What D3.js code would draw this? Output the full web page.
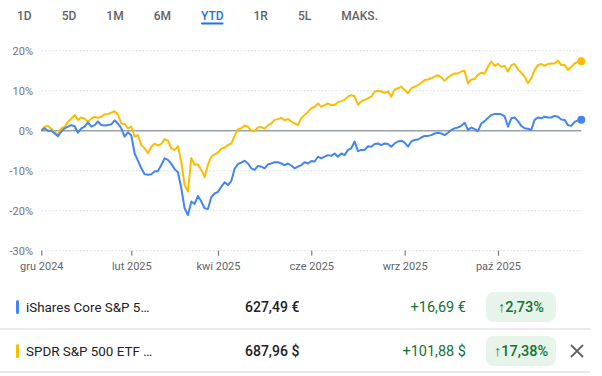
<!DOCTYPE html>
<html>
<head>
<meta charset="utf-8">
<script src="https://d3js.org/d3.v7.min.js"></script>
<style>
  body { margin: 0; background: #fff; }
  svg { display: block; font-family: Roboto, "Noto Sans", sans-serif; }
</style>
</head>
<body>
<svg id="chart"></svg>
<script>
// range tabs
const tabs = ["1D", "5D", "1M", "6M", "YTD", "1R", "5L", "MAKS."];
const activeTab = "YTD";

// axes
const yTicks = [20, 10, 0, -10, -20, -30];
const xTickLabels = ["gru 2024", "lut 2025", "kwi 2025", "cze 2025", "wrz 2025", "paź 2025"];
const xTickIndex = [0, 27, 53, 81, 109, 137];

// % change since start
const spdrPct = [
  0, 1.0, 1.2, 0.5, -0.3, -1.1, 0.6, 1.0, 2.2, 3.0,
  3.9, 2.7, 3.3, 3.0, 2.3, 3.0, 3.5, 3.2, 3.5, 4.1,
  4.2, 4.5, 4.9, 4.0, 1.8, 1.7, 0.6, 1.0, -1.5, -1.1,
  -3.6, -4.4, -5.6, -4.0, -3.2, -3.7, -3.3, -2.1, -2.5, -4.4,
  -4.8, -3.9, -7.7, -13.6, -15.2, -6.8, -8.5, -8.4, -9.8, -11.6,
  -8.5, -6.5, -5.9, -5.5, -4.5, -4.2, -3.6, -3.2, -1.3, 0.4,
  0.6, 1.3, 1.0, 0, 0, 0.8, 0.9, 0.5, 1.4, 1.8,
  2.7, 2.9, 3.2, 2.6, 2.9, 2.3, 1.8, 1.4, 3.2, 3.9,
  4.7, 5.6, 6.0, 6.8, 6.0, 6.4, 6.8, 6.4, 6.4, 7.1,
  7.4, 7.7, 8.5, 8.9, 8.6, 6.5, 7.3, 7.7, 8.1, 8.5,
  9.8, 10.0, 9.8, 9.5, 9.8, 8.5, 10.3, 10.6, 11.0, 10.2,
  9.3, 10.6, 11.0, 11.4, 12.0, 12.7, 12.8, 13.1, 13.5, 13.9,
  13.3, 12.5, 13.3, 13.9, 14.3, 14.3, 14.8, 15.0, 11.8, 12.8,
  12.9, 14.0, 14.5, 14.3, 16.0, 17.3, 16.2, 16.7, 16.0, 16.2,
  14.8, 16.4, 16.7, 15.3, 14.5, 13.5, 11.9, 13.1, 15.2, 16.4,
  16.7, 16.2, 16.7, 16.8, 16.8, 17.5, 16.4, 16.4, 15.2, 16.0,
  16.8, 17.2, 17.38
];

const isharesPct = [
  0, 0.6, 0, 0, -0.7, -1.4, -0.2, 0.6, 1.0, 1.4,
  1.1, -0.5, 0.6, 1.0, 2.1, 1.0, 1.4, 2.3, 1.4, 1.3,
  1.4, 1.6, 2.6, 1.8, 0.6, -1.5, -0.4, -1.2, -5.7, -7.5,
  -9.4, -10.9, -11.0, -10.9, -10.2, -10.1, -8.6, -6.9, -7.3, -8.3,
  -9.6, -10.4, -14.4, -19.4, -21.1, -17.7, -18.3, -16.3, -17.7, -19.4,
  -19.6, -16.6, -15.7, -15.3, -14.0, -12.9, -13.6, -12.6, -9.5, -8.3,
  -8.0, -7.5, -8.2, -9.4, -9.8, -8.8, -9.0, -9.4, -8.4, -8.2,
  -7.9, -7.9, -8.2, -8.6, -8.2, -8.7, -9.4, -9.0, -8.6, -7.9,
  -8.2, -7.6, -7.7, -6.5, -6.9, -6.5, -6.1, -6.3, -5.7, -6.5,
  -5.7, -6.1, -4.8, -4.4, -2.7, -5.1, -4.8, -4.8, -3.9, -4.0,
  -3.3, -3.2, -3.6, -3.2, -3.3, -4.0, -3.2, -2.7, -2.5, -3.0,
  -4.0, -2.7, -2.3, -2.2, -1.7, -1.3, -1.3, -1.1, -0.7, -0.5,
  -0.7, -1.1, -0.5, 0.2, 0.6, 0.8, 1.2, 2.0, 0.2, 0.8,
  0.4, -0.1, 1.8, 2.4, 3.2, 3.9, 4.2, 4.2, 4.1, 3.6,
  1.0, 3.1, 3.3, 2.4, 1.2, 0.6, 0.5, 0.2, 2.7, 3.3,
  3.1, 3.5, 3.3, 3.3, 3.7, 3.5, 2.8, 2.7, 1.4, 1.2,
  2.2, 2.6, 2.73
];

// legend table
const names = ["iShares Core S&P 5…", "SPDR S&P 500 ETF …"];
const prices = ["627,49 €", "687,96 $"];
const changes = ["+16,69 €", "+101,88 $"];
const changePct = ["2,73%", "17,38%"];

const colors = ["#4285f4", "#fbbc04"];
const W = 602, H = 376;

const svg = d3.select("#chart")
    .attr("width", W)
    .attr("height", H);

// Tabs across the top, laid out one after another
let tx = 17;
tabs.forEach(t => {
    const active = t === activeTab;
    const el = svg.append("text")
        .attr("x", tx)
        .attr("y", 19.5)
        .style("font-size", "12px")
        .style("font-weight", 500)
        .attr("fill", active ? "#1a73e8" : "#5f6368")
        .text(t);
    const w = el.node().getComputedTextLength();
    if (active) {
        svg.append("rect")
            .attr("x", tx)
            .attr("y", 22.5)
            .attr("width", w)
            .attr("height", 2)
            .attr("rx", 1)
            .attr("fill", "#1a73e8");
    }
    tx += w + 30;
});

// Scales
const x = d3.scaleLinear()
    .domain([0, spdrPct.length - 1])
    .range([41.3, 581.3]);

const y = d3.scaleLinear()
    .domain([-30, 20])
    .range([250.7, 50.7]);

// Gridlines
svg.append("g")
    .selectAll("line")
    .data(yTicks.filter(d => d !== 0))
    .join("line")
    .attr("x1", x.range()[0])
    .attr("x2", x.range()[1])
    .attr("y1", d => y(d))
    .attr("y2", d => y(d))
    .attr("stroke", "#d7dbe0")
    .attr("stroke-width", 1)
    .attr("stroke-dasharray", "1.5,2");

// Y labels
svg.append("g")
    .selectAll("text")
    .data(yTicks)
    .join("text")
    .attr("x", 33)
    .attr("y", d => y(d))
    .attr("dy", "0.35em")
    .attr("text-anchor", "end")
    .style("font-size", "11px")
    .attr("fill", "#70757a")
    .text(d => d + "%");

// X axis
const xAxis = d3.axisBottom(x)
    .tickValues(xTickIndex)
    .tickFormat((d, i) => xTickLabels[i])
    .tickSize(5)
    .tickPadding(7);

const xAxisG = svg.append("g")
    .attr("transform", `translate(0,${y(-30)})`)
    .call(xAxis);
xAxisG.select(".domain").remove();
xAxisG.selectAll(".tick line").attr("stroke", "#5f6368");
xAxisG.selectAll(".tick text")
    .attr("fill", "#5f6368")
    .style("font-family", "Roboto, 'Noto Sans', sans-serif")
    .style("font-size", "11px");

// Zero line
svg.append("line")
    .attr("x1", x.range()[0])
    .attr("x2", x.range()[1])
    .attr("y1", y(0))
    .attr("y2", y(0))
    .attr("stroke", "#9aa0a6")
    .attr("stroke-width", 1.5);

// Series lines
const line = d3.line()
    .x((d, i) => x(i))
    .y(d => y(d));

const series = [spdrPct, isharesPct];
const seriesColors = [colors[1], colors[0]];

series.forEach((s, k) => {
    svg.append("path")
        .datum(s)
        .attr("fill", "none")
        .attr("stroke", seriesColors[k])
        .attr("stroke-width", 2)
        .attr("stroke-linejoin", "round")
        .attr("d", line);

    svg.append("circle")
        .attr("cx", x(s.length - 1))
        .attr("cy", y(s[s.length - 1]))
        .attr("r", 4)
        .attr("fill", seriesColors[k]);
});

// Legend table below the chart
const rowY = [307, 351];

svg.append("g")
    .selectAll("line")
    .data([329, 372])
    .join("line")
    .attr("x1", 0)
    .attr("x2", 590)
    .attr("y1", d => d)
    .attr("y2", d => d)
    .attr("stroke", "#e8eaed")
    .attr("stroke-width", 2);

names.forEach((n, i) => {
    const cy = rowY[i];
    const row = svg.append("g");

    row.append("rect")
        .attr("x", 16)
        .attr("y", cy - 7)
        .attr("width", 3)
        .attr("height", 14)
        .attr("rx", 1.5)
        .attr("fill", colors[i]);

    row.append("text")
        .attr("x", 26)
        .attr("y", cy)
        .attr("dy", "0.35em")
        .style("font-size", "13.4px")
        .attr("fill", "#202124")
        .text(n);

    row.append("text")
        .attr("x", 245)
        .attr("y", cy)
        .attr("dy", "0.35em")
        .style("font-size", "14px")
        .style("font-weight", 500)
        .attr("fill", "#202124")
        .text(prices[i]);

    row.append("text")
        .attr("x", 466)
        .attr("y", cy)
        .attr("dy", "0.35em")
        .attr("text-anchor", "end")
        .style("font-size", "14.5px")
        .attr("fill", "#137333")
        .text(changes[i]);

    row.append("rect")
        .attr("x", 486)
        .attr("y", cy - 15)
        .attr("width", 70)
        .attr("height", 30)
        .attr("rx", 8)
        .attr("fill", "#e6f4ea");

    row.append("text")
        .attr("x", 521)
        .attr("y", cy)
        .attr("dy", "0.35em")
        .attr("text-anchor", "middle")
        .style("font-size", "14.5px")
        .style("font-weight", 500)
        .attr("fill", "#137333")
        .text("↑" + changePct[i]);
});

// close icon on the compared row
const cx = 577, cyX = rowY[1];
svg.append("path")
    .attr("d", `M${cx - 6},${cyX - 6}L${cx + 6},${cyX + 6}M${cx + 6},${cyX - 6}L${cx - 6},${cyX + 6}`)
    .attr("stroke", "#5f6368")
    .attr("stroke-width", 1.8);
</script>
</body>
</html>
